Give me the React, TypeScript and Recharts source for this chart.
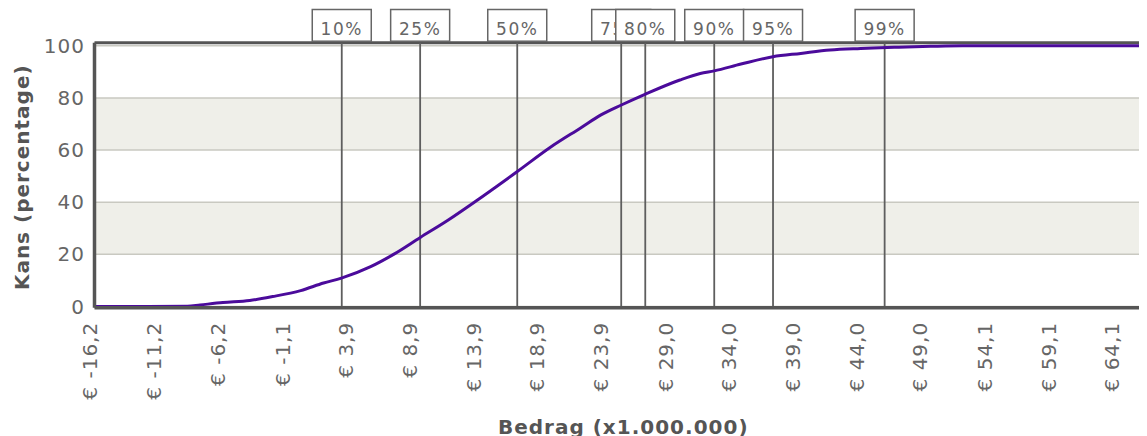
import React from 'react';
import { ComposedChart, Line, XAxis, YAxis, CartesianGrid, ReferenceLine } from 'recharts';

// Bedrag (x1.000.000) and cumulative probability (%)
const bedrag = [-16.2, -12.0, -8.9, -7.9, -6.1, -4.0, -2.2, 0.0, 1.8, 3.2, 5.5, 7.3, 9.4, 11.6, 13.7, 17.0, 19.6, 22.0, 23.6, 25.2, 27.1, 29.8, 31.4, 32.5, 34.6, 37.1, 39.3, 41.6, 44.0, 45.0, 47.0, 49.5, 52.0, 58.0, 66.9];
const kans = [0, 0, 0.1, 0.6, 1.5, 2.3, 3.8, 6.1, 9.0, 10.9, 15.3, 20.0, 26.5, 33.2, 40.2, 51.7, 61.0, 68.5, 73.5, 77.3, 81.5, 86.9, 89.4, 90.4, 93.0, 95.8, 97.1, 98.4, 99.0, 99.2, 99.5, 99.8, 100, 100, 100];

const xTicks = [-16.2, -11.2, -6.2, -1.1, 3.9, 8.9, 13.9, 18.9, 23.9, 29.0, 34.0, 39.0, 44.0, 49.0, 54.1, 59.1, 64.1];
const yTicks = [0, 20, 40, 60, 80, 100];
const yDomain = [-0.5, 101.2];
const xDomain = [-16.2, 66.9];

const percentileLabels = ['10%', '25%', '50%', '75%', '80%', '90%', '95%', '99%'];
const percentileValues = [3.23, 9.39, 17.02, 25.19, 27.08, 32.5, 37.12, 45.89];

const data = bedrag.map((b, i) => ({ bedrag: b, kans: kans[i] }));

const FONT = '"DejaVu Sans", Verdana, sans-serif';
const TEXT = '#666';
const FRAME = '#555';

const XTick = (props: any) => {
  const { x, y, payload } = props;
  const label = '€ ' + Number(payload.value).toFixed(1).replace('.', ',');
  return (
    <text
      x={x}
      y={y}
      dy={3}
      transform={`rotate(-90, ${x}, ${y})`}
      textAnchor="end"
      fill={TEXT}
      fontSize={20}
      fontFamily={FONT}
      letterSpacing={1}
    >
      {label}
    </text>
  );
};

const PctBox = (props: any) => {
  const vb = props.viewBox || { x: 0, y: 0 };
  const x = vb.x;
  const y = vb.y;
  return (
    <g>
      <rect x={x - 29.5} y={y - 33.2} width={59} height={31.7} fill="#fff" stroke="#666" strokeWidth={1.5} />
      <text x={x} y={y - 7.7} textAnchor="middle" fill={TEXT} fontSize={17} fontFamily={FONT} letterSpacing={1.5}>
        {props.text}
      </text>
    </g>
  );
};

const YTitle = (props: any) => {
  const vb = props.viewBox || { x: 0, y: 0, width: 0, height: 0 };
  const cx = 21;
  const cy = vb.y + vb.height / 2 + 2;
  return (
    <text
      transform={`translate(${cx}, ${cy}) rotate(-90)`}
      textAnchor="middle"
      fill={FRAME}
      fontSize={20}
      fontWeight="bold"
      fontFamily={FONT}
      letterSpacing={1}
    >
      Kans (percentage)
    </text>
  );
};

const XTitle = (props: any) => {
  const vb = props.viewBox || { x: 0, y: 0, width: 0, height: 0 };
  return (
    <text
      x={vb.x + vb.width / 2}
      y={vb.y + 126.5}
      textAnchor="middle"
      fill={FRAME}
      fontSize={20}
      fontWeight="bold"
      fontFamily={FONT}
      letterSpacing={1}
    >
      Bedrag (x1.000.000)
    </text>
  );
};

export default function App() {
  return (
    <div style={{ width: 1139, height: 428, overflow: 'hidden' }}>
      <ComposedChart
        width={1150}
        height={440}
        data={data}
        margin={{ top: 34.7, right: 6, bottom: 0, left: 0 }}
      >
        <CartesianGrid
          vertical={false}
          stroke="#c9c9c1"
          strokeWidth={1.5}
          horizontalFill={['#ffffff', '#ffffff', '#ffffff', '#efefe9', '#ffffff', '#efefe9']}
        />
        <XAxis
          dataKey="bedrag"
          type="number"
          domain={xDomain}
          allowDataOverflow
          ticks={xTicks}
          interval={0}
          tick={<XTick />}
          tickLine={false}
          tickSize={0}
          tickMargin={14}
          height={140.2}
          axisLine={{ stroke: FRAME, strokeWidth: 3.5 }}
          label={<XTitle />}
        />
        <YAxis
          type="number"
          domain={yDomain}
          allowDataOverflow
          ticks={yTicks}
          interval={0}
          width={86.5}
          tickLine={false}
          tickSize={0}
          tickMargin={9.5}
          axisLine={{ stroke: FRAME, strokeWidth: 3.5 }}
          tick={{ fill: TEXT, fontSize: 20, fontFamily: FONT, letterSpacing: 1 }}
          label={<YTitle />}
        />
        <ReferenceLine y={yDomain[1]} stroke={FRAME} strokeWidth={3} />
        {percentileValues.map((v, i) => (
          <ReferenceLine
            key={percentileLabels[i]}
            x={v}
            stroke="#5e5e5e"
            strokeWidth={1.8}
            label={<PctBox text={percentileLabels[i]} />}
          />
        ))}
        <Line
          dataKey="kans"
          type="monotone"
          stroke="#4b0b9b"
          strokeWidth={3}
          dot={false}
          activeDot={false}
          isAnimationActive={false}
        />
      </ComposedChart>
    </div>
  );
}
